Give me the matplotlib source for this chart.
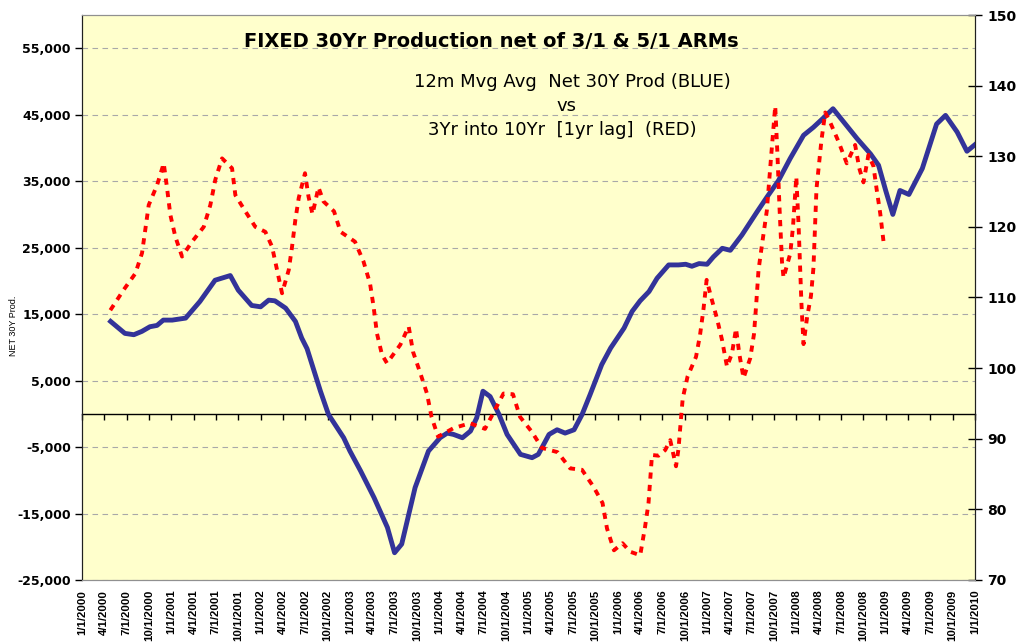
import matplotlib
matplotlib.use("Agg")
import matplotlib.pyplot as plt

plt.rcParams["font.family"] = ["DejaVu Sans"]

# ── Data (x = decimal year) ────────────────────────────────────────────────────
# 12m moving average net 30Y production (left axis)
BLUE_X = [2000.32, 2000.48, 2000.58, 2000.67, 2000.76, 2000.84, 2000.91, 2001.01, 2001.16, 2001.32,
          2001.49, 2001.66, 2001.75, 2001.90, 2002.00, 2002.09, 2002.16, 2002.28, 2002.39, 2002.46,
          2002.52, 2002.67, 2002.76, 2002.93, 2003.00, 2003.12, 2003.27, 2003.42, 2003.50, 2003.58,
          2003.73, 2003.88, 2004.01, 2004.09, 2004.16, 2004.26, 2004.35, 2004.42, 2004.49, 2004.57,
          2004.67, 2004.76, 2004.91, 2005.04, 2005.11, 2005.23, 2005.32, 2005.41, 2005.51, 2005.60,
          2005.69, 2005.82, 2005.92, 2006.07, 2006.16, 2006.25, 2006.35, 2006.44, 2006.57, 2006.68,
          2006.76, 2006.83, 2006.91, 2007.00, 2007.07, 2007.17, 2007.26, 2007.39, 2007.56, 2007.67,
          2007.80, 2007.93, 2008.08, 2008.19, 2008.31, 2008.41, 2008.53, 2008.68, 2008.83, 2008.92,
          2009.00, 2009.08, 2009.16, 2009.26, 2009.41, 2009.57, 2009.67, 2009.80, 2009.91, 2010.00]
BLUE_Y = [13900, 12100, 11900, 12400, 13100, 13300, 14100, 14100, 14400, 16900,
          20100, 20800, 18600, 16300, 16100, 17100, 17000, 15900, 13900, 11400,
          9800, 3400, -100, -3600, -5600, -8600, -12600, -17100, -20900, -19600,
          -11100, -5600, -3600, -2900, -3100, -3600, -2600, -600, 3400, 2600,
          -100, -3100, -6100, -6600, -6100, -3100, -2400, -2900, -2400, -100,
          2900, 7400, 9900, 12900, 15400, 17000, 18400, 20400, 22400, 22400,
          22500, 22200, 22600, 22500, 23600, 24900, 24600, 26900, 30400, 32600,
          35100, 38400, 41900, 43100, 44600, 45900, 43900, 41400, 39100, 37400,
          33600, 30000, 33600, 33000, 36900, 43600, 44900, 42400, 39500, 40500]

# 3Yr into 10Yr, 1yr lag (right axis)
RED_X = [2000.317, 2000.467, 2000.597, 2000.672, 2000.747, 2000.840, 2000.915, 2000.952, 2000.989, 2001.045,
         2001.120, 2001.232, 2001.363, 2001.437, 2001.493, 2001.568, 2001.680, 2001.717, 2001.829, 2001.941,
         2002.053, 2002.128, 2002.184, 2002.240, 2002.315, 2002.352, 2002.389, 2002.427, 2002.497, 2002.536,
         2002.581, 2002.648, 2002.704, 2002.822, 2002.895, 2003.057, 2003.152, 2003.225, 2003.264, 2003.303,
         2003.359, 2003.415, 2003.564, 2003.658, 2003.707, 2003.788, 2003.863, 2003.914, 2003.987, 2004.160,
         2004.345, 2004.513, 2004.720, 2004.826, 2004.905, 2005.036, 2005.151, 2005.325, 2005.467, 2005.599,
         2005.728, 2005.829, 2005.879, 2005.957, 2006.053, 2006.139, 2006.251, 2006.305, 2006.344, 2006.383,
         2006.456, 2006.531, 2006.587, 2006.652, 2006.680, 2006.702, 2006.727, 2006.781, 2006.876, 2006.921,
         2006.960, 2006.995, 2007.044, 2007.111, 2007.167, 2007.223, 2007.279, 2007.324, 2007.361, 2007.408,
         2007.483, 2007.525, 2007.548, 2007.576, 2007.615, 2007.669, 2007.716, 2007.763, 2007.788, 2007.811,
         2007.839, 2007.856, 2007.931, 2007.962, 2007.999, 2008.024, 2008.057, 2008.080, 2008.121, 2008.163,
         2008.191, 2008.225, 2008.281, 2008.323, 2008.382, 2008.471, 2008.564, 2008.658, 2008.704, 2008.751,
         2008.807, 2008.863, 2008.900, 2008.939, 2008.975]
RED_Y = [108.2, 111.1, 113.4, 116.3, 123.1, 125.9, 129.0, 125.5, 121.7, 118.6,
         115.8, 117.9, 120.0, 123.1, 126.7, 129.7, 128.3, 124.5, 122.2, 120.0,
         119.3, 117.2, 113.9, 110.6, 113.9, 117.2, 121.0, 124.1, 127.6, 124.3,
         121.8, 125.6, 123.6, 122.2, 119.3, 117.9, 115.1, 112.0, 108.8, 104.9,
         101.9, 100.7, 103.3, 105.9, 102.3, 99.3, 96.4, 93.1, 90.3, 91.5,
         92.2, 91.4, 96.4, 96.3, 93.1, 91.0, 88.7, 88.1, 85.8, 85.6,
         83.2, 80.9, 77.3, 74.2, 75.2, 74.0, 73.5, 77.5, 80.9, 87.7,
         87.6, 88.4, 89.8, 86.1, 88.6, 92.0, 95.7, 98.8, 101.6, 104.7,
         108.4, 112.5, 110.1, 107.0, 104.0, 100.2, 102.1, 105.6, 102.0, 98.6,
         101.4, 104.8, 108.7, 113.9, 117.5, 122.3, 129.8, 137.1, 130.2, 122.7,
         115.0, 112.8, 116.2, 120.0, 127.1, 120.4, 109.0, 103.4, 107.3, 110.2,
         114.2, 125.4, 132.3, 136.2, 134.7, 132.1, 129.0, 131.6, 128.3, 126.3,
         130.2, 128.6, 125.2, 121.9, 118.0]

LEFT_TICKS = list(range(-25000, 55001, 10000))
RIGHT_TICKS = list(range(70, 151, 10))
QUARTERS = [2000 + q / 4 for q in range(41)]
QUARTER_LABELS = [f"{(1, 4, 7, 10)[q % 4]}/1/{2000 + q // 4}" for q in range(41)]

Y_LEFT = (-25000, 60000)
Y_RIGHT = (70, 150)

BLUE = "#333399"
RED = "#FF0000"
PLOT_BG = "#FFFFCC"
NARROW = ["Liberation Sans", "DejaVu Sans"]

# ── Figure ─────────────────────────────────────────────────────────────────────
fig = plt.figure(figsize=(10.19, 6.44), dpi=100)
ax = fig.add_axes([0.0805, 0.0994, 0.8763, 0.8773])
ax.set_facecolor(PLOT_BG)
ax2 = ax.twinx()

ax.plot(BLUE_X, BLUE_Y, color=BLUE, lw=3.5, solid_joinstyle="round", zorder=3)
ax2.plot(RED_X, RED_Y, color=RED, lw=2.8, linestyle=(0, (1.6, 1.6)),
         dash_capstyle="butt", zorder=3)

ax.set_xlim(2000, 2010)
ax.set_ylim(*Y_LEFT)
ax2.set_ylim(*Y_RIGHT)

# left axis
ax.set_yticks(LEFT_TICKS, [f"{v:,}" for v in LEFT_TICKS], fontsize=9, fontweight="bold")
ax.tick_params(axis="y", direction="out", length=5, width=1, pad=3)
ax.yaxis.grid(True, linestyle=(0, (5, 4)), color="#A8A8A8", lw=0.8)
ax.set_axisbelow(True)
ax.set_ylabel("NET 30Y Prod.", fontsize=6.5, family=NARROW)
ax.yaxis.set_label_coords(-0.072, 0.45)

# right axis
ax2.set_yticks(RIGHT_TICKS, [str(v) for v in RIGHT_TICKS], fontsize=10, fontweight="bold")
ax2.tick_params(axis="y", direction="inout", length=10, width=1, pad=4)

# category labels along the bottom
ax.set_xticks(QUARTERS, QUARTER_LABELS, rotation=90, fontsize=8.2, fontweight="bold",
              family=NARROW)
ax.tick_params(axis="x", length=0, pad=7)

# zero line with quarter tick marks
zero_frac = (0 - Y_LEFT[0]) / (Y_LEFT[1] - Y_LEFT[0])
sec = ax.secondary_xaxis(zero_frac)
sec.set_xticks(QUARTERS)
sec.tick_params(axis="x", direction="out", length=4, width=1, color="black",
                labelbottom=False, labeltop=False)
for sp in sec.spines.values():
    sp.set_color("black")
    sp.set_linewidth(1)

for a in (ax, ax2):
    a.spines["left"].set_color("#202020")
    a.spines["right"].set_color("#202020")
    a.spines["top"].set_color("#909090")
    a.spines["bottom"].set_color("#909090")

# ── Titles ─────────────────────────────────────────────────────────────────────
fig.text(0.482, 0.935, "FIXED 30Yr Production net of 3/1 & 5/1 ARMs",
         fontsize=14, fontweight="bold", ha="center", va="center")
fig.text(0.562, 0.873, "12m Mvg Avg  Net 30Y Prod (BLUE)", fontsize=13, ha="center", va="center")
fig.text(0.556, 0.836, "vs", fontsize=13, ha="center", va="center")
fig.text(0.552, 0.798, "3Yr into 10Yr  [1yr lag]  (RED)", fontsize=13, ha="center", va="center")

fig.savefig("out.png", dpi=100)
plt.close(fig)
